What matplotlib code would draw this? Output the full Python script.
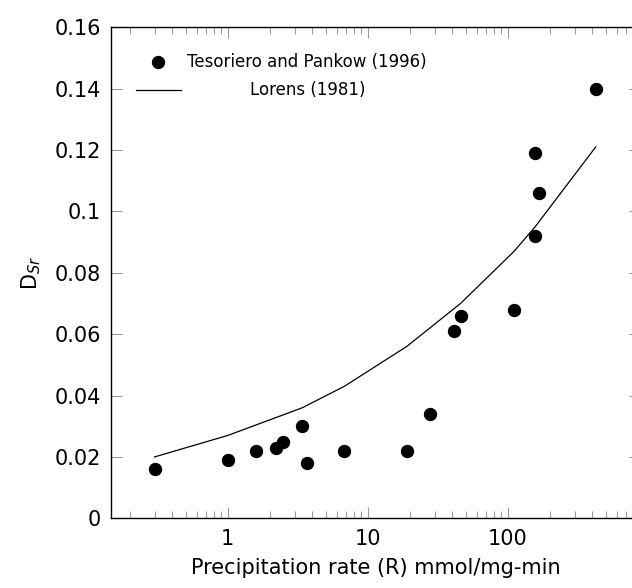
import numpy as np
import matplotlib
matplotlib.use("Agg")
import matplotlib.pyplot as plt
from matplotlib.ticker import LogLocator, FixedLocator, FormatStrFormatter

# Tesoriero and Pankow (1996) - measured D_Sr vs precipitation rate
rate_tp = [0.3, 1.0, 1.6, 2.2, 2.5, 3.4, 3.7, 6.8, 19, 28, 41, 46, 111, 157, 157, 166, 425]
dsr_tp = [0.016, 0.019, 0.022, 0.023, 0.025, 0.030, 0.018, 0.022, 0.022, 0.034,
          0.061, 0.066, 0.068, 0.119, 0.092, 0.106, 0.140]

# Lorens (1981) curve
rate_lo = [0.3, 1.0, 3.4, 6.8, 19, 46, 111, 157, 425]
dsr_lo = [0.020, 0.027, 0.036, 0.043, 0.056, 0.070, 0.087, 0.095, 0.121]

yticks = [0, 0.02, 0.04, 0.06, 0.08, 0.1, 0.12, 0.14, 0.16]

plt.rcParams['font.family'] = ['DejaVu Sans']
plt.rcParams['mathtext.fontset'] = 'dejavusans'

fig = plt.figure(figsize=(6.32, 5.88), dpi=100)
ax = fig.add_axes([0.1752, 0.1185, 0.8375, 0.8351])

ax.plot(rate_lo, dsr_lo, color='black', lw=0.9)
ax.plot(rate_tp, dsr_tp, 'o', color='black', ms=8.6, ls='none')

ax.set_xscale('log')
ax.set_xlim(0.146, 881)
ax.set_ylim(0, 0.16)

ax.xaxis.set_major_locator(LogLocator(base=10, numticks=10))
ax.xaxis.set_minor_locator(LogLocator(base=10, subs=np.arange(2, 10), numticks=20))
ax.xaxis.set_major_formatter(FormatStrFormatter('%g'))
ax.xaxis.set_minor_formatter(plt.NullFormatter())
ax.yaxis.set_major_locator(FixedLocator(yticks))
ax.yaxis.set_major_formatter(FormatStrFormatter('%g'))

ax.tick_params(which='major', direction='in', length=8, width=0.8, color='#999999',
               top=True, right=True, labelsize=15, pad=7)
ax.tick_params(axis='x', which='minor', direction='in', length=5, width=0.8,
               color='#999999', top=True, bottom=True)
ax.tick_params(axis='x', which='major', pad=8)
for s in ax.spines.values():
    s.set_linewidth(1.0)

ax.set_xlabel('Precipitation rate (R) mmol/mg-min', fontsize=15, labelpad=6)
ax.set_ylabel(r'D$_{Sr}$', fontsize=15, labelpad=8)

# legend drawn by hand (text centred like the original)
tr = ax.transAxes
ax.plot([0.0894], [0.930], 'o', color='black', ms=8.6, transform=tr, clip_on=False)
ax.text(0.1436, 0.930, 'Tesoriero and Pankow (1996)', transform=tr,
        ha='left', va='center', fontsize=12)
ax.plot([0.0472, 0.1322], [0.8717, 0.8717], color='black', lw=0.9, transform=tr)
ax.text(0.3728, 0.8717, 'Lorens (1981)', transform=tr,
        ha='center', va='center', fontsize=12)

fig.savefig('out.png', dpi=100)
